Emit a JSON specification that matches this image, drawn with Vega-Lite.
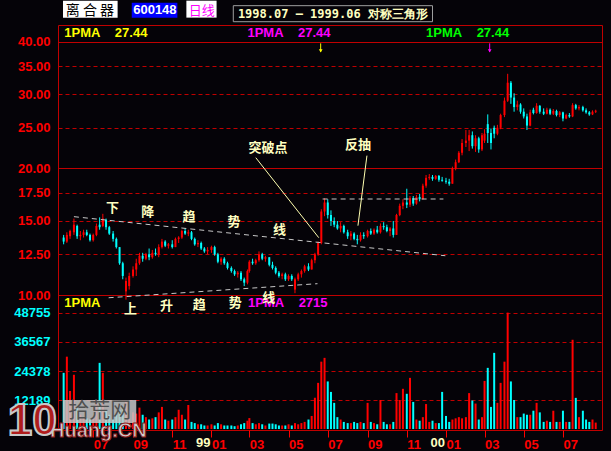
{
"$schema":"https://vega.github.io/schema/vega-lite/v6.json",
"autosize":{"type":"none"},
"padding":{"left":58,"top":25,"right":9,"bottom":21},
"background":"#050308",
"width":544,
"height":405,
"config":{
 "view":{"stroke":"#c00000","strokeWidth":1},
 "axis":{"labelFont":"Liberation Sans","labelFontWeight":"bold","labelFontSize":13,"gridColor":"#c00000","gridWidth":1,"gridOpacity":1,"domain":false}
},
"datasets":{
"k":[
{"d":"1998-05-16","o":13.7,"h":13.9,"l":13.2,"c":13.4,"v":23600},
{"d":"1998-05-21","o":13.4,"h":14.1,"l":13.3,"c":13.9,"v":30400},
{"d":"1998-05-26","o":13.8,"h":14.3,"l":13.6,"c":14.2,"v":16000},
{"d":"1998-06-01","o":14.1,"h":15.2,"l":13.9,"c":14.7,"v":22800},
{"d":"1998-06-06","o":14.6,"h":14.7,"l":13.6,"c":13.8,"v":9000},
{"d":"1998-06-11","o":13.8,"h":14.2,"l":13.5,"c":13.9,"v":6000},
{"d":"1998-06-16","o":13.9,"h":14.3,"l":13.7,"c":14.1,"v":5000},
{"d":"1998-06-21","o":14.1,"h":14.3,"l":13.8,"c":13.9,"v":4500},
{"d":"1998-06-26","o":13.9,"h":14.0,"l":13.4,"c":13.5,"v":4000},
{"d":"1998-07-01","o":13.5,"h":14.0,"l":13.4,"c":13.9,"v":5000},
{"d":"1998-07-06","o":13.9,"h":14.8,"l":13.8,"c":14.6,"v":12000},
{"d":"1998-07-11","o":14.7,"h":15.3,"l":14.3,"c":14.5,"v":27800},
{"d":"1998-07-16","o":14.6,"h":15.6,"l":14.5,"c":15.2,"v":23600},
{"d":"1998-07-21","o":15.1,"h":15.2,"l":14.3,"c":14.5,"v":8000},
{"d":"1998-07-26","o":14.5,"h":14.6,"l":13.9,"c":14.0,"v":6000},
{"d":"1998-08-01","o":14.0,"h":14.2,"l":13.4,"c":13.6,"v":5000},
{"d":"1998-08-06","o":13.6,"h":13.7,"l":12.9,"c":13.0,"v":6000},
{"d":"1998-08-11","o":13.0,"h":13.0,"l":11.8,"c":11.9,"v":8000},
{"d":"1998-08-16","o":11.9,"h":12.0,"l":10.9,"c":11.1,"v":9000},
{"d":"1998-08-21","o":10.2,"h":11.0,"l":9.75,"c":10.8,"v":12000},
{"d":"1998-08-26","o":10.5,"h":11.3,"l":10.3,"c":11.1,"v":8000},
{"d":"1998-09-01","o":11.1,"h":11.7,"l":11.0,"c":11.5,"v":7000},
{"d":"1998-09-06","o":11.5,"h":12.2,"l":11.1,"c":11.9,"v":6500},
{"d":"1998-09-11","o":11.9,"h":12.6,"l":11.8,"c":12.4,"v":9000},
{"d":"1998-09-16","o":12.4,"h":12.6,"l":12.0,"c":12.2,"v":6000},
{"d":"1998-09-21","o":12.2,"h":12.6,"l":12.1,"c":12.5,"v":5000},
{"d":"1998-09-26","o":12.5,"h":12.9,"l":12.1,"c":12.3,"v":4000},
{"d":"1998-10-01","o":12.3,"h":12.8,"l":12.2,"c":12.6,"v":4500},
{"d":"1998-10-06","o":12.6,"h":12.9,"l":12.4,"c":12.5,"v":5000},
{"d":"1998-10-11","o":12.5,"h":13.2,"l":12.3,"c":13.0,"v":7000},
{"d":"1998-10-16","o":13.0,"h":13.6,"l":12.9,"c":13.4,"v":9300},
{"d":"1998-10-21","o":13.4,"h":13.5,"l":13.0,"c":13.1,"v":4000},
{"d":"1998-10-26","o":13.1,"h":13.3,"l":12.9,"c":13.2,"v":3500},
{"d":"1998-11-01","o":13.2,"h":13.5,"l":12.9,"c":13.0,"v":4000},
{"d":"1998-11-06","o":13.0,"h":13.7,"l":13.0,"c":13.6,"v":5000},
{"d":"1998-11-11","o":13.6,"h":13.8,"l":13.3,"c":13.7,"v":8100},
{"d":"1998-11-16","o":13.7,"h":14.3,"l":13.6,"c":14.2,"v":6000},
{"d":"1998-11-21","o":14.2,"h":14.4,"l":13.9,"c":14.0,"v":4000},
{"d":"1998-11-26","o":14.0,"h":14.3,"l":13.8,"c":14.1,"v":10100},
{"d":"1998-12-01","o":14.1,"h":14.2,"l":13.5,"c":13.6,"v":3000},
{"d":"1998-12-06","o":13.6,"h":13.7,"l":13.1,"c":13.2,"v":2500},
{"d":"1998-12-11","o":13.2,"h":13.5,"l":13.0,"c":13.3,"v":2000},
{"d":"1998-12-16","o":13.3,"h":13.4,"l":12.8,"c":12.9,"v":2000},
{"d":"1998-12-21","o":12.9,"h":13.0,"l":12.6,"c":12.7,"v":1500},
{"d":"1998-12-26","o":12.7,"h":13.0,"l":12.5,"c":12.8,"v":1500},
{"d":"1999-01-01","o":12.8,"h":13.1,"l":12.6,"c":13.0,"v":2000},
{"d":"1999-01-06","o":13.0,"h":13.1,"l":12.4,"c":12.5,"v":1500},
{"d":"1999-01-11","o":12.5,"h":12.6,"l":11.9,"c":12.0,"v":2500},
{"d":"1999-01-16","o":12.0,"h":12.3,"l":11.8,"c":12.2,"v":2000},
{"d":"1999-01-21","o":12.2,"h":12.3,"l":11.8,"c":11.9,"v":1500},
{"d":"1999-01-26","o":11.9,"h":12.0,"l":11.5,"c":11.6,"v":1500},
{"d":"1999-02-01","o":11.6,"h":11.7,"l":11.3,"c":11.4,"v":1500},
{"d":"1999-02-06","o":11.4,"h":11.5,"l":11.1,"c":11.2,"v":1200},
{"d":"1999-02-11","o":11.2,"h":11.4,"l":11.0,"c":11.3,"v":1500},
{"d":"1999-02-16","o":11.3,"h":11.4,"l":10.8,"c":10.9,"v":2000},
{"d":"1999-02-21","o":10.9,"h":11.0,"l":10.5,"c":10.7,"v":2500},
{"d":"1999-02-26","o":10.7,"h":11.5,"l":10.6,"c":11.4,"v":3500},
{"d":"1999-03-01","o":11.4,"h":12.1,"l":11.3,"c":12.0,"v":4600},
{"d":"1999-03-06","o":12.0,"h":12.2,"l":11.8,"c":11.9,"v":2500},
{"d":"1999-03-11","o":11.9,"h":12.2,"l":11.8,"c":12.1,"v":2000},
{"d":"1999-03-16","o":12.1,"h":12.7,"l":12.0,"c":12.5,"v":2500},
{"d":"1999-03-21","o":12.5,"h":12.6,"l":12.1,"c":12.2,"v":2000},
{"d":"1999-03-26","o":12.2,"h":12.4,"l":12.0,"c":12.3,"v":1500},
{"d":"1999-04-01","o":12.3,"h":12.3,"l":11.7,"c":11.8,"v":2300},
{"d":"1999-04-06","o":11.8,"h":12.0,"l":11.5,"c":11.6,"v":2300},
{"d":"1999-04-11","o":11.6,"h":11.7,"l":11.2,"c":11.3,"v":2000},
{"d":"1999-04-16","o":11.3,"h":11.4,"l":11.0,"c":11.1,"v":1500},
{"d":"1999-04-21","o":11.1,"h":11.3,"l":10.9,"c":11.2,"v":1500},
{"d":"1999-04-26","o":11.2,"h":11.3,"l":10.8,"c":10.9,"v":1500},
{"d":"1999-05-01","o":10.9,"h":11.2,"l":10.8,"c":11.1,"v":2000},
{"d":"1999-05-06","o":11.1,"h":11.2,"l":10.8,"c":10.9,"v":1500},
{"d":"1999-05-11","o":10.3,"h":11.0,"l":10.1,"c":10.9,"v":2500},
{"d":"1999-05-16","o":10.9,"h":11.3,"l":10.8,"c":11.2,"v":2000},
{"d":"1999-05-21","o":11.2,"h":11.5,"l":11.0,"c":11.4,"v":2500},
{"d":"1999-05-26","o":11.4,"h":11.8,"l":11.3,"c":11.7,"v":3000},
{"d":"1999-06-01","o":11.7,"h":11.9,"l":11.4,"c":11.5,"v":4000},
{"d":"1999-06-06","o":11.5,"h":12.2,"l":11.5,"c":12.1,"v":5500},
{"d":"1999-06-11","o":12.1,"h":12.6,"l":11.9,"c":12.5,"v":13100},
{"d":"1999-06-16","o":12.5,"h":13.4,"l":12.4,"c":13.3,"v":19400},
{"d":"1999-06-21","o":13.3,"h":16.0,"l":13.2,"c":15.8,"v":28300},
{"d":"1999-06-26","o":15.8,"h":17.0,"l":15.4,"c":16.6,"v":29900},
{"d":"1999-07-01","o":16.6,"h":16.9,"l":15.2,"c":15.5,"v":20000},
{"d":"1999-07-06","o":15.5,"h":15.9,"l":14.6,"c":15.0,"v":15600},
{"d":"1999-07-11","o":15.0,"h":15.3,"l":14.5,"c":14.7,"v":11000},
{"d":"1999-07-16","o":14.7,"h":15.0,"l":14.3,"c":14.4,"v":5000},
{"d":"1999-07-21","o":14.4,"h":14.9,"l":14.1,"c":14.6,"v":4000},
{"d":"1999-07-26","o":14.6,"h":14.7,"l":14.0,"c":14.1,"v":3000},
{"d":"1999-08-01","o":14.1,"h":14.3,"l":13.6,"c":13.8,"v":2500},
{"d":"1999-08-06","o":13.8,"h":14.2,"l":13.5,"c":14.0,"v":2500},
{"d":"1999-08-11","o":14.0,"h":14.1,"l":13.5,"c":13.6,"v":3000},
{"d":"1999-08-16","o":13.6,"h":13.9,"l":13.2,"c":13.5,"v":2500},
{"d":"1999-08-21","o":13.5,"h":14.1,"l":13.4,"c":13.9,"v":3000},
{"d":"1999-08-26","o":13.9,"h":14.1,"l":13.6,"c":13.8,"v":2500},
{"d":"1999-09-01","o":13.8,"h":14.3,"l":13.7,"c":14.2,"v":11000},
{"d":"1999-09-06","o":14.2,"h":14.4,"l":13.9,"c":14.0,"v":3000},
{"d":"1999-09-11","o":14.0,"h":14.4,"l":13.9,"c":14.3,"v":2500},
{"d":"1999-09-16","o":14.3,"h":14.6,"l":14.0,"c":14.1,"v":2000},
{"d":"1999-09-21","o":14.1,"h":14.8,"l":14.0,"c":14.6,"v":12200},
{"d":"1999-09-26","o":14.6,"h":14.9,"l":14.3,"c":14.5,"v":3000},
{"d":"1999-10-01","o":14.5,"h":14.7,"l":14.1,"c":14.2,"v":2000},
{"d":"1999-10-06","o":14.2,"h":14.5,"l":13.8,"c":14.4,"v":2000},
{"d":"1999-10-11","o":14.4,"h":15.0,"l":13.7,"c":13.9,"v":3000},
{"d":"1999-10-16","o":13.9,"h":15.6,"l":13.9,"c":15.5,"v":15100},
{"d":"1999-10-21","o":15.5,"h":16.5,"l":15.4,"c":16.3,"v":12200},
{"d":"1999-10-26","o":16.3,"h":16.9,"l":16.0,"c":16.6,"v":16900},
{"d":"1999-11-01","o":16.6,"h":17.9,"l":16.1,"c":16.4,"v":14800},
{"d":"1999-11-06","o":16.4,"h":17.2,"l":16.2,"c":17.0,"v":21500},
{"d":"1999-11-11","o":17.0,"h":17.2,"l":16.3,"c":16.5,"v":11400},
{"d":"1999-11-16","o":16.5,"h":17.3,"l":16.4,"c":17.1,"v":4000},
{"d":"1999-11-21","o":17.1,"h":17.4,"l":16.7,"c":16.9,"v":3500},
{"d":"1999-11-26","o":16.9,"h":18.4,"l":16.9,"c":18.2,"v":5000},
{"d":"1999-12-01","o":18.2,"h":19.3,"l":18.0,"c":19.0,"v":10500},
{"d":"1999-12-06","o":19.0,"h":19.4,"l":18.8,"c":19.1,"v":3000},
{"d":"1999-12-11","o":19.1,"h":19.3,"l":18.7,"c":18.9,"v":3500},
{"d":"1999-12-16","o":18.9,"h":19.3,"l":18.8,"c":19.2,"v":2500},
{"d":"1999-12-21","o":19.2,"h":19.3,"l":18.6,"c":18.8,"v":2500},
{"d":"1999-12-26","o":18.8,"h":19.1,"l":18.6,"c":18.7,"v":15600},
{"d":"2000-01-01","o":18.7,"h":19.0,"l":18.4,"c":18.6,"v":5500},
{"d":"2000-01-06","o":18.6,"h":18.9,"l":18.2,"c":18.4,"v":3000},
{"d":"2000-01-11","o":18.4,"h":20.2,"l":18.4,"c":20.0,"v":4000},
{"d":"2000-01-16","o":20.0,"h":21.0,"l":19.8,"c":20.7,"v":4500},
{"d":"2000-01-21","o":20.7,"h":22.0,"l":20.6,"c":21.8,"v":5000},
{"d":"2000-01-26","o":21.8,"h":23.5,"l":21.5,"c":23.0,"v":4500},
{"d":"2000-02-01","o":23.0,"h":24.7,"l":22.5,"c":23.3,"v":5000},
{"d":"2000-02-06","o":23.3,"h":24.7,"l":22.0,"c":24.0,"v":15100},
{"d":"2000-02-11","o":24.0,"h":24.5,"l":22.3,"c":22.6,"v":12000},
{"d":"2000-02-16","o":22.6,"h":24.0,"l":21.9,"c":23.6,"v":10700},
{"d":"2000-02-21","o":23.6,"h":23.8,"l":21.8,"c":22.2,"v":4000},
{"d":"2000-02-26","o":22.2,"h":24.3,"l":22.0,"c":24.0,"v":5000},
{"d":"2000-03-01","o":23.3,"h":24.8,"l":23.0,"c":24.2,"v":20200},
{"d":"2000-03-06","o":25.5,"h":26.9,"l":23.0,"c":24.3,"v":25700},
{"d":"2000-03-11","o":24.3,"h":24.9,"l":22.2,"c":23.0,"v":9300},
{"d":"2000-03-16","o":25.0,"h":25.3,"l":23.6,"c":24.2,"v":32000},
{"d":"2000-03-21","o":24.2,"h":25.4,"l":24.0,"c":25.0,"v":11000},
{"d":"2000-03-26","o":25.0,"h":27.0,"l":24.8,"c":26.8,"v":19400},
{"d":"2000-04-01","o":26.8,"h":29.5,"l":26.5,"c":29.0,"v":28300},
{"d":"2000-04-06","o":29.0,"h":33.6,"l":28.8,"c":32.0,"v":48900},
{"d":"2000-04-11","o":32.0,"h":32.3,"l":28.5,"c":29.5,"v":20000},
{"d":"2000-04-16","o":29.5,"h":30.2,"l":27.3,"c":28.0,"v":12200},
{"d":"2000-04-21","o":28.0,"h":29.0,"l":27.5,"c":28.4,"v":5000},
{"d":"2000-04-26","o":28.4,"h":28.6,"l":27.0,"c":27.3,"v":5000},
{"d":"2000-05-01","o":27.3,"h":27.8,"l":26.3,"c":26.6,"v":6500},
{"d":"2000-05-06","o":26.6,"h":27.0,"l":24.7,"c":25.3,"v":6000},
{"d":"2000-05-11","o":25.3,"h":27.6,"l":25.2,"c":27.2,"v":6000},
{"d":"2000-05-16","o":27.6,"h":27.9,"l":26.9,"c":27.1,"v":7700},
{"d":"2000-05-21","o":27.1,"h":28.6,"l":27.0,"c":28.2,"v":11000},
{"d":"2000-05-26","o":28.2,"h":28.3,"l":27.0,"c":27.3,"v":7000},
{"d":"2000-06-01","o":27.3,"h":27.8,"l":26.8,"c":27.0,"v":3000},
{"d":"2000-06-06","o":27.0,"h":27.9,"l":26.9,"c":27.6,"v":3500},
{"d":"2000-06-11","o":27.6,"h":27.8,"l":26.8,"c":27.0,"v":3000},
{"d":"2000-06-16","o":27.0,"h":27.7,"l":26.8,"c":27.4,"v":7700},
{"d":"2000-06-21","o":27.4,"h":27.6,"l":26.6,"c":26.8,"v":3000},
{"d":"2000-06-26","o":26.8,"h":27.4,"l":26.5,"c":27.2,"v":3000},
{"d":"2000-07-01","o":27.2,"h":27.3,"l":25.9,"c":26.3,"v":7700},
{"d":"2000-07-06","o":26.3,"h":27.0,"l":26.2,"c":26.8,"v":3000},
{"d":"2000-07-11","o":26.8,"h":27.1,"l":26.4,"c":26.6,"v":3000},
{"d":"2000-07-16","o":26.6,"h":28.6,"l":26.5,"c":28.3,"v":37500},
{"d":"2000-07-21","o":28.3,"h":28.5,"l":27.6,"c":27.8,"v":13100},
{"d":"2000-07-26","o":27.8,"h":28.3,"l":27.5,"c":28.0,"v":5000},
{"d":"2000-08-01","o":28.0,"h":28.2,"l":27.3,"c":27.5,"v":7700},
{"d":"2000-08-06","o":27.5,"h":27.8,"l":27.0,"c":27.2,"v":4000},
{"d":"2000-08-11","o":27.2,"h":27.4,"l":26.7,"c":26.9,"v":3000},
{"d":"2000-08-16","o":26.9,"h":27.5,"l":26.8,"c":27.3,"v":4000},
{"d":"2000-08-21","o":27.3,"h":27.6,"l":27.1,"c":27.44,"v":2715}
]
},
"resolve":{"scale":{"y":"independent"},"axis":{"y":"independent"}},
"layer":[
{
 "layer":[
  {"data":{"name":"k"},"mark":{"type":"rule","strokeWidth":1},
   "encoding":{
    "x":{"field":"d","type":"temporal","title":null,"scale":{"type":"utc","domain":[{"year":1998,"month":5,"date":15,"utc":true},{"year":2000,"month":8,"date":23,"utc":true}]},
     "axis":{"format":"%m","tickCount":{"interval":"month","step":2},"labelColor":"#ff0000","tickColor":"#ff0000","ticks":true,"tickSize":7,"labelAlign":"left","labelBaseline":"top","labelPadding":1,"labelFlush":false,"labelOverlap":false,"labelBound":false,"grid":false}},
    "y":{"field":"l","type":"quantitative","title":null,"scale":{"type":"log","domain":[10,43.9],"range":[270,0],"nice":false,"zero":false},
     "axis":{"orient":"left","values":[10,12.5,15,17.5,20,25,30,35,40],"format":".2f","labelColor":"#ff0000","grid":true,"gridDash":{"condition":{"test":"datum.value==20||datum.value==40||datum.value==10","value":[]},"value":[4,3]},"ticks":false,"tickSize":0,"labelPadding":8}},
    "y2":{"field":"h"},
    "color":{"condition":{"test":"datum.c>=datum.o","value":"#ff0000"},"value":"#00ffff"}}},
  {"data":{"name":"k"},"mark":{"type":"bar","size":2},
   "encoding":{
    "x":{"field":"d","type":"temporal","title":null},
    "y":{"field":"o","type":"quantitative","title":null},
    "y2":{"field":"c"},
    "color":{"condition":{"test":"datum.c>=datum.o","value":"#ff0000"},"value":"#00ffff"}}},
  {"data":{"values":[{"g":"a","d":"1998-06-01","p":15.36},{"g":"a","d":"1999-12-31","p":12.40},{"g":"b","d":"1998-07-25","p":9.85},{"g":"b","d":"1999-06-15","p":10.64},{"g":"c","d":"1999-06-23","p":16.92},{"g":"c","d":"1999-12-28","p":16.92}]},
   "mark":{"type":"line","color":"#c8c8c8","strokeDash":[5,4],"strokeWidth":1},
   "encoding":{"x":{"field":"d","type":"temporal","title":null},"y":{"field":"p","type":"quantitative","title":null},"detail":{"field":"g"}}},
  {"data":{"values":[{"g":"a","d":"1999-03-11","p":21.22},{"g":"a","d":"1999-06-17","p":13.69},{"g":"b","d":"1999-08-31","p":21.46},{"g":"b","d":"1999-08-17","p":14.62}]},
   "mark":{"type":"line","color":"#ffffb0","strokeWidth":1},
   "encoding":{"x":{"field":"d","type":"temporal","title":null},"y":{"field":"p","type":"quantitative","title":null},"detail":{"field":"g"}}},
  {"data":{"values":[{"d":"1999-03-30","p":22.35,"t":"突破点"},{"d":"1999-08-17","p":22.72,"t":"反抽"},{"d":"1998-07-31","p":16.14,"t":"下"},{"d":"1998-09-24","p":15.78,"t":"降"},{"d":"1998-11-27","p":15.36,"t":"趋"},{"d":"1999-02-05","p":14.94,"t":"势"},{"d":"1999-04-17","p":14.30,"t":"线"}]},
   "mark":{"type":"text","font":"Noto Sans CJK SC","fontSize":13,"fontWeight":"bold","color":"#ffffc0","baseline":"middle"},
   "encoding":{"x":{"field":"d","type":"temporal","title":null},"y":{"field":"p","type":"quantitative","title":null},"text":{"field":"t"}}},
  {"data":{"values":[{"d":"1998-05-17","p":41.98,"t":"1PMA\u00a0\u00a0\u00a0\u00a027.44"}]},
   "mark":{"type":"text","font":"Liberation Sans","fontSize":13,"fontWeight":"bold","color":"#ffff00","align":"left","baseline":"middle"},
   "encoding":{"x":{"field":"d","type":"temporal","title":null},"y":{"field":"p","type":"quantitative","title":null},"text":{"field":"t"}}},
  {"data":{"values":[{"d":"1999-02-26","p":41.98,"t":"1PMA\u00a0\u00a0\u00a0\u00a027.44"}]},
   "mark":{"type":"text","font":"Liberation Sans","fontSize":13,"fontWeight":"bold","color":"#ff00ff","align":"left","baseline":"middle"},
   "encoding":{"x":{"field":"d","type":"temporal","title":null},"y":{"field":"p","type":"quantitative","title":null},"text":{"field":"t"}}},
  {"data":{"values":[{"d":"1999-12-01","p":41.98,"t":"1PMA\u00a0\u00a0\u00a0\u00a027.44"}]},
   "mark":{"type":"text","font":"Liberation Sans","fontSize":13,"fontWeight":"bold","color":"#00ff00","align":"left","baseline":"middle"},
   "encoding":{"x":{"field":"d","type":"temporal","title":null},"y":{"field":"p","type":"quantitative","title":null},"text":{"field":"t"}}},
  {"data":{"values":[{"d":"1999-06-20","p1":39.7,"p2":37.9}]},
   "mark":{"type":"rule","color":"#ffff00","strokeWidth":1},
   "encoding":{"x":{"field":"d","type":"temporal","title":null},"y":{"field":"p1","type":"quantitative","title":null},"y2":{"field":"p2"}}},
  {"data":{"values":[{"d":"1999-06-20","p2":38.1}]},
   "mark":{"type":"point","shape":"triangle-down","filled":true,"size":14,"color":"#ffff00","opacity":1},
   "encoding":{"x":{"field":"d","type":"temporal","title":null},"y":{"field":"p2","type":"quantitative","title":null}}},
  {"data":{"values":[{"d":"2000-03-09","p1":39.7,"p2":37.9}]},
   "mark":{"type":"rule","color":"#ff00ff","strokeWidth":1},
   "encoding":{"x":{"field":"d","type":"temporal","title":null},"y":{"field":"p1","type":"quantitative","title":null},"y2":{"field":"p2"}}},
  {"data":{"values":[{"d":"2000-03-09","p2":38.1}]},
   "mark":{"type":"point","shape":"triangle-down","filled":true,"size":14,"color":"#ff00ff","opacity":1},
   "encoding":{"x":{"field":"d","type":"temporal","title":null},"y":{"field":"p2","type":"quantitative","title":null}}},
  {"data":{"values":[{"d1":"1998-05-15","d2":"1998-08-08","p1":45.71,"p2":50.16},{"d1":"1998-11-23","d2":"1999-01-09","p1":45.71,"p2":50.16}]},
   "mark":{"type":"rect","color":"#ffffff"},
   "encoding":{"x":{"field":"d1","type":"temporal","title":null},"x2":{"field":"d2"},"y":{"field":"p1","type":"quantitative","title":null},"y2":{"field":"p2"}}},
  {"data":{"values":[{"d1":"1998-08-30","d2":"1998-11-09","p1":45.71,"p2":49.6}]},
   "mark":{"type":"rect","color":"#0000ff"},
   "encoding":{"x":{"field":"d1","type":"temporal","title":null},"x2":{"field":"d2"},"y":{"field":"p1","type":"quantitative","title":null},"y2":{"field":"p2"}}},
  {"data":{"values":[{"d1":"1999-02-04","d2":"1999-12-11","p1":44.7,"p2":48.8}]},
   "mark":{"type":"rect","fill":"#050308","stroke":"#a0a0a0","strokeWidth":1},
   "encoding":{"x":{"field":"d1","type":"temporal","title":null},"x2":{"field":"d2"},"y":{"field":"p1","type":"quantitative","title":null},"y2":{"field":"p2"}}},
  {"data":{"values":[{"d":"1998-06-26","p":47.48,"t":"离 合 器"}]},
   "mark":{"type":"text","font":"Noto Sans CJK SC","fontSize":14,"color":"#000000","baseline":"middle"},
   "encoding":{"x":{"field":"d","type":"temporal","title":null},"y":{"field":"p","type":"quantitative","title":null},"text":{"field":"t"}}},
  {"data":{"values":[{"d":"1998-10-05","p":47.6,"t":"600148"}]},
   "mark":{"type":"text","font":"Liberation Sans","fontSize":13,"fontWeight":"bold","color":"#ffffff","baseline":"middle"},
   "encoding":{"x":{"field":"d","type":"temporal","title":null},"y":{"field":"p","type":"quantitative","title":null},"text":{"field":"t"}}},
  {"data":{"values":[{"d":"1998-12-17","p":47.48,"t":"日线"}]},
   "mark":{"type":"text","font":"Noto Sans CJK SC","fontSize":13,"color":"#ff00ff","baseline":"middle"},
   "encoding":{"x":{"field":"d","type":"temporal","title":null},"y":{"field":"p","type":"quantitative","title":null},"text":{"field":"t"}}},
  {"data":{"values":[{"d":"1999-07-09","p":46.71,"t":"1998.07 — 1999.06 对称三角形"}]},
   "mark":{"type":"text","font":"DejaVu Sans Mono","fontSize":12,"fontWeight":"bold","color":"#ffffc0","baseline":"middle"},
   "encoding":{"x":{"field":"d","type":"temporal","title":null},"y":{"field":"p","type":"quantitative","title":null},"text":{"field":"t"}}}
 ]
},
{
 "layer":[
  {"data":{"name":"k"},"mark":{"type":"bar","size":2},
   "encoding":{
    "x":{"field":"d","type":"temporal","title":null},
    "y":{"field":"v","type":"quantitative","title":null,"scale":{"domain":[-400,56300],"range":[405,270],"nice":false},
     "axis":{"orient":"left","values":[12189,24378,36567,48755],"format":"d","labelColor":"#00ffff","grid":true,"gridDash":[4,3],"ticks":false,"tickSize":0,"labelPadding":8}},
    "color":{"condition":{"test":"datum.c>=datum.o","value":"#ff0000"},"value":"#00ffff"}}},
  {"data":{"values":[{"d":"1998-05-17","v":52940,"t":"1PMA"}]},
   "mark":{"type":"text","font":"Liberation Sans","fontSize":13,"fontWeight":"bold","color":"#ffff00","align":"left","baseline":"middle"},
   "encoding":{"x":{"field":"d","type":"temporal","title":null},"y":{"field":"v","type":"quantitative","title":null},"text":{"field":"t"}}},
  {"data":{"values":[{"d":"1999-02-27","v":52940,"t":"1PMA\u00a0\u00a0\u00a0\u00a02715"}]},
   "mark":{"type":"text","font":"Liberation Sans","fontSize":13,"fontWeight":"bold","color":"#ff00ff","align":"left","baseline":"middle"},
   "encoding":{"x":{"field":"d","type":"temporal","title":null},"y":{"field":"v","type":"quantitative","title":null},"text":{"field":"t"}}},
  {"data":{"values":[{"d":"1998-08-28","v":50420,"t":"上"},{"d":"1998-10-23","v":51680,"t":"升"},{"d":"1998-12-13","v":52100,"t":"趋"},{"d":"1999-02-07","v":52940,"t":"势"},{"d":"1999-03-31","v":55040,"t":"线"}]},
   "mark":{"type":"text","font":"Noto Sans CJK SC","fontSize":13,"fontWeight":"bold","color":"#ffffc0","baseline":"middle"},
   "encoding":{"x":{"field":"d","type":"temporal","title":null},"y":{"field":"v","type":"quantitative","title":null},"text":{"field":"t"}}},
  {"data":{"values":[{"d":"1999-01-01","t":"99"},{"d":"2000-01-01","t":"00"}]},
   "mark":{"type":"text","font":"Liberation Sans","fontSize":13,"fontWeight":"bold","color":"#ffffc0","align":"right","baseline":"middle","dx":-1},
   "encoding":{"x":{"field":"d","type":"temporal","title":null},"y":{"datum":-5900,"type":"quantitative"},"text":{"field":"t"}}},
  {"data":{"values":[{"d1":"1998-05-15","d2":"1998-09-06","v1":2540,"v2":12200}]},
   "mark":{"type":"rect","color":"#c8c8c8","opacity":0.85},
   "encoding":{"x":{"field":"d1","type":"temporal","title":null},"x2":{"field":"d2"},"y":{"field":"v1","type":"quantitative","title":null},"y2":{"field":"v2"}}},
  {"data":{"values":[{"d":"1998-07-11","v":7580,"t":"拾荒网"}]},
   "mark":{"type":"text","font":"Noto Sans CJK SC","fontSize":21,"color":"#505050","baseline":"middle"},
   "encoding":{"x":{"field":"d","type":"temporal","title":null},"y":{"field":"v","type":"quantitative","title":null},"text":{"field":"t"}}},
  {"data":{"values":[{"d":"1998-07-09","v":-820,"t":"Huang.CN"}]},
   "mark":{"type":"text","font":"Liberation Sans","fontSize":20,"fontWeight":"bold","color":"#d0d0d0","stroke":"#902020","strokeWidth":1,"baseline":"middle"},
   "encoding":{"x":{"field":"d","type":"temporal","title":null},"y":{"field":"v","type":"quantitative","title":null},"text":{"field":"t"}}},
  {"data":{"values":[{"d":"1998-03-28","v":2960,"t":"10"}]},
   "mark":{"type":"text","font":"Liberation Sans","fontSize":44,"fontWeight":"bold","color":"#b01c1c","stroke":"#c8c8c8","strokeWidth":2,"baseline":"middle"},
   "encoding":{"x":{"field":"d","type":"temporal","title":null},"y":{"field":"v","type":"quantitative","title":null},"text":{"field":"t"}}}
 ]
}
]
}
